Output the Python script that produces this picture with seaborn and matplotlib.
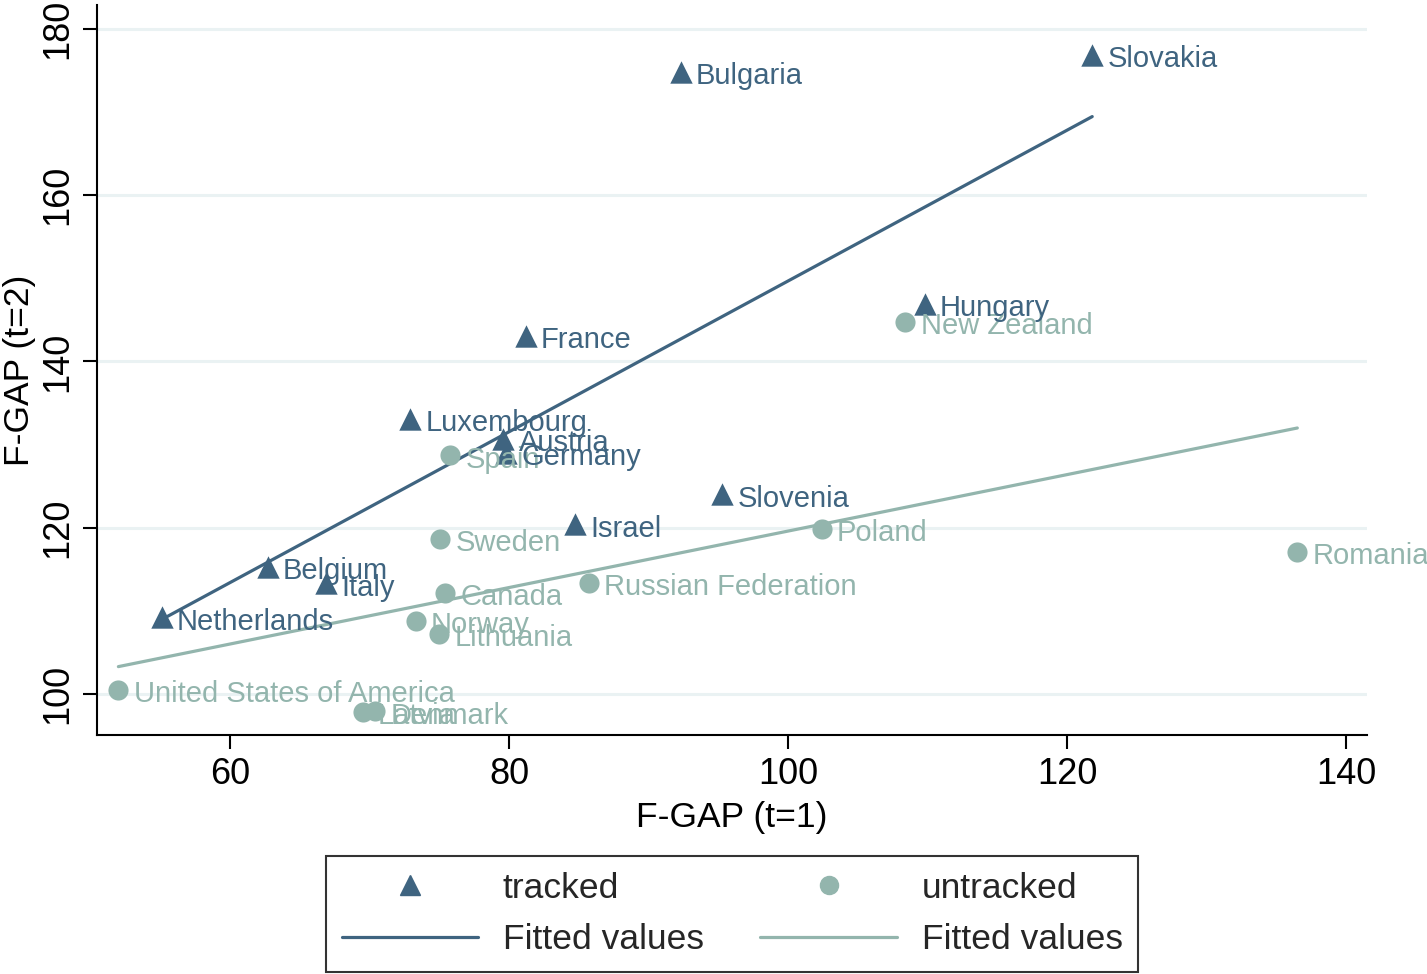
import numpy as np
import pandas as pd
import matplotlib
matplotlib.use("Agg")
import matplotlib.pyplot as plt
import seaborn as sns
from matplotlib.lines import Line2D

# tracked countries (F-GAP t=1, t=2)
tracked_names = ["Slovakia", "Bulgaria", "Hungary", "France", "Luxembourg", "Austria",
                 "Germany", "Slovenia", "Israel", "Belgium", "Italy", "Netherlands"]
tracked_x = [121.8, 92.3, 109.8, 81.2, 72.9, 79.6, 79.8, 95.3, 84.7, 62.7, 66.9, 55.1]
tracked_y = [176.9, 174.8, 146.9, 143.1, 133.1, 130.7, 129.0, 124.0, 120.4, 115.3, 113.3, 109.2]

# untracked countries
untracked_names = ["New Zealand", "Spain", "Sweden", "Poland", "Romania", "Russian Federation",
                   "Canada", "Norway", "Lithuania", "United States of America", "Latvia", "Denmark"]
untracked_x = [108.4, 75.8, 75.05, 102.4, 136.5, 85.7, 75.4, 73.3, 75.0, 52.0, 69.5, 70.4]
untracked_y = [144.8, 128.7, 118.7, 119.9, 117.1, 113.4, 112.2, 108.8, 107.2, 100.5, 97.8, 97.9]

dark = "#3f6480"
light = "#93b5ad"

sns.set_theme(style="white")
plt.rcParams['font.family'] = ['Liberation Sans', 'DejaVu Sans']

df_t = pd.DataFrame({"x": tracked_x, "y": tracked_y, "name": tracked_names})
df_u = pd.DataFrame({"x": untracked_x, "y": untracked_y, "name": untracked_names})

fig = plt.figure(figsize=(14.27, 9.74), dpi=100)
ax = fig.add_axes([0.068, 0.2454, 0.890, 0.7495])

# horizontal grid only
for yv in [100, 120, 140, 160, 180]:
    ax.axhline(yv, color="#eaf2f3", lw=2.2, zorder=0)

# fitted lines (OLS within each group)
for d, c in [(df_t, dark), (df_u, light)]:
    b, a = np.polyfit(d["x"], d["y"], 1)
    xs = np.array([d["x"].min(), d["x"].max()])
    sns.lineplot(x=xs, y=a + b * xs, color=c, lw=2.3, ax=ax, zorder=2)

sns.scatterplot(data=df_u, x="x", y="y", color=light, marker="o", s=210,
                edgecolor=light, linewidth=0, ax=ax, zorder=3)
sns.scatterplot(data=df_t, x="x", y="y", color=dark, marker="^", s=260,
                edgecolor=dark, linewidth=0, ax=ax, zorder=4)

for d, c in [(df_u, light), (df_t, dark)]:
    for _, r in d.iterrows():
        ax.annotate(r["name"], (r["x"], r["y"]), xytext=(11, -3), textcoords="offset points",
                    va="center", ha="left", color=c, fontsize=21, zorder=5)

ax.set_xlim(50.47, 141.5)
ax.set_ylim(95.06, 182.9)
ax.set_xticks([60, 80, 100, 120, 140])
ax.set_yticks([100, 120, 140, 160, 180])
ax.tick_params(axis="both", direction="out", length=10, width=1.5, color="black",
               labelsize=26, labelcolor="black", bottom=True, left=True, pad=6)
for lbl in ax.get_yticklabels():
    lbl.set_rotation(90)
    lbl.set_va("center")
ax.set_xlabel("F-GAP (t=1)", fontsize=25.5, color="black", labelpad=6)
ax.set_ylabel("F-GAP (t=2)", fontsize=25.5, color="black")
ax.yaxis.set_label_coords(-0.048, 0.5)
sns.despine(ax=ax)
for sp in ["left", "bottom"]:
    ax.spines[sp].set_color("black")
    ax.spines[sp].set_linewidth(1.5)

handles = [
    Line2D([], [], ls="none", marker="^", color=dark, markersize=15),
    Line2D([], [], color=dark, lw=2.3),
    Line2D([], [], ls="none", marker="o", color=light, markersize=13),
    Line2D([], [], color=light, lw=2.3),
]
labels = ["tracked", "Fitted values", "untracked", "Fitted values"]
leg = fig.legend(handles, labels, ncol=2, loc="center", bbox_to_anchor=(0.513, 0.0615),
                 fontsize=25.5, frameon=True, fancybox=False, handlelength=3.85,
                 handletextpad=0.7, columnspacing=1.6, labelspacing=0.52,
                 borderpad=0.45, borderaxespad=0)
leg.get_frame().set_edgecolor("black")
leg.get_frame().set_linewidth(1.5)

fig.savefig("out.png", dpi=100)
